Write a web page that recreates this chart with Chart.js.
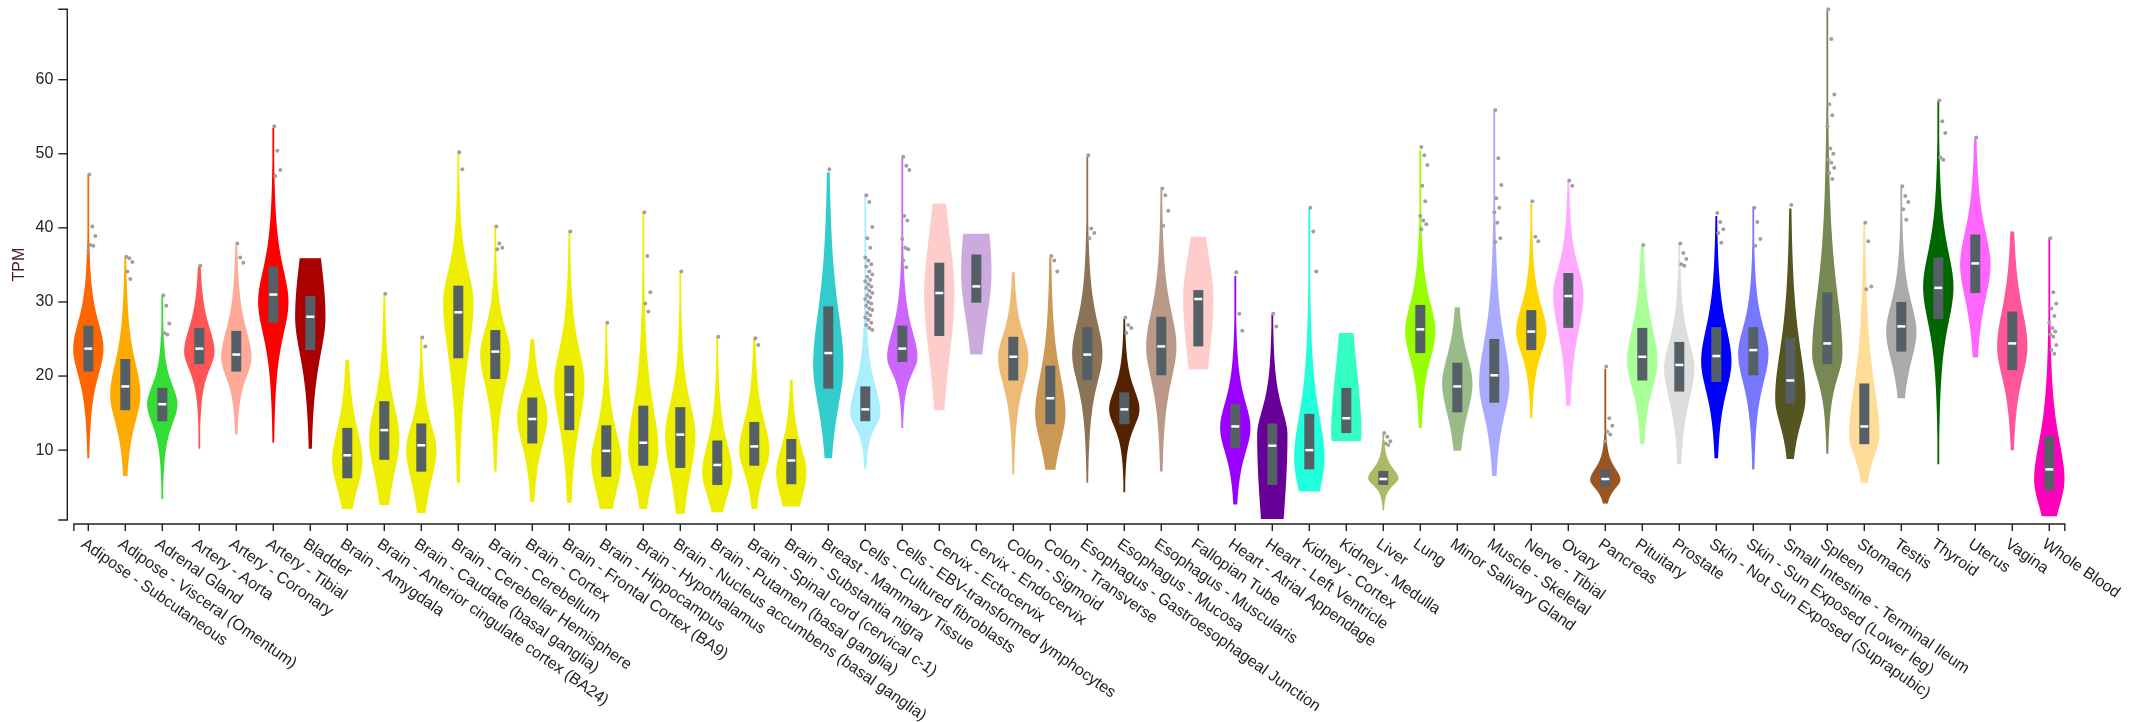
<!DOCTYPE html>
<html>
<head>
<meta charset="utf-8">
<title>Expresión por tejido (TPM)</title>
<script src="https://cdn.jsdelivr.net/npm/chart.js@4/dist/chart.umd.min.js"></script>
<style>
    html, body { margin: 0; padding: 0; background: #ffffff; }
    #wrap { width: 2132px; height: 722px; }
</style>
</head>
<body>
<div id="wrap"><canvas id="violinChart" width="2132" height="722"></canvas></div>
<script>
// Tissue names (x categories)
const tissues = [
    'Adipose - Subcutaneous', 'Adipose - Visceral (Omentum)', 'Adrenal Gland', 'Artery - Aorta',
    'Artery - Coronary', 'Artery - Tibial', 'Bladder', 'Brain - Amygdala',
    'Brain - Anterior cingulate cortex (BA24)', 'Brain - Caudate (basal ganglia)', 'Brain - Cerebellar Hemisphere',
    'Brain - Cerebellum', 'Brain - Cortex', 'Brain - Frontal Cortex (BA9)', 'Brain - Hippocampus',
    'Brain - Hypothalamus', 'Brain - Nucleus accumbens (basal ganglia)', 'Brain - Putamen (basal ganglia)',
    'Brain - Spinal cord (cervical c-1)', 'Brain - Substantia nigra', 'Breast - Mammary Tissue',
    'Cells - Cultured fibroblasts', 'Cells - EBV-transformed lymphocytes', 'Cervix - Ectocervix',
    'Cervix - Endocervix', 'Colon - Sigmoid', 'Colon - Transverse', 'Esophagus - Gastroesophageal Junction',
    'Esophagus - Mucosa', 'Esophagus - Muscularis', 'Fallopian Tube', 'Heart - Atrial Appendage',
    'Heart - Left Ventricle', 'Kidney - Cortex', 'Kidney - Medulla', 'Liver', 'Lung', 'Minor Salivary Gland',
    'Muscle - Skeletal', 'Nerve - Tibial', 'Ovary', 'Pancreas', 'Pituitary', 'Prostate',
    'Skin - Not Sun Exposed (Suprapubic)', 'Skin - Sun Exposed (Lower leg)', 'Small Intestine - Terminal Ileum',
    'Spleen', 'Stomach', 'Testis', 'Thyroid', 'Uterus', 'Vagina', 'Whole Blood'
];

// Tissue colours
const tissueColors = [
    '#FF6600', '#FFAA00', '#33DD33', '#FF5555', '#FFAA99', '#FF0000', '#AA0000', '#EEEE00',
    '#EEEE00', '#EEEE00', '#EEEE00', '#EEEE00', '#EEEE00', '#EEEE00', '#EEEE00',
    '#EEEE00', '#EEEE00', '#EEEE00', '#EEEE00', '#EEEE00', '#33CCCC',
    '#AAEEFF', '#CC66FF', '#FFCCCC', '#CCAADD', '#EEBB77', '#CC9955', '#8B7355',
    '#552200', '#BB9988', '#FFCCCC', '#9900FF', '#660099', '#22FFDD', '#33FFC2', '#AABB66',
    '#99FF00', '#99BB88', '#AAAAFF', '#FFD700', '#FFAAFF', '#995522', '#AAFF99', '#DDDDDD',
    '#0000FF', '#7777FF', '#555522', '#778855', '#FFDD99', '#AAAAAA', '#006600', '#FF66FF',
    '#FF5599', '#FF00BB'
];

// Violin extent (lowest and highest value), TPM
const violinLow = [8.9, 6.5, 3.4, 10.2, 12.1, 11.0, 10.2, 2.05, 2.6, 1.5, 5.6, 7.1, 3.0, 2.9, 2.05, 2.05, 1.4, 1.6,
    2.05, 2.4, 8.9, 7.5, 13.0, 15.4, 22.9, 6.7, 7.35, 5.6, 4.3, 7.1, 20.9, 2.65, 0.7, 4.4, 11.2, 1.9, 13.0, 9.9,
    6.5, 14.3, 16.0, 2.8, 10.8, 8.1, 8.9, 7.4, 8.8, 9.5, 5.6, 17.0, 8.1, 22.5, 10.0, 1.07];
const violinHigh = [47.1, 36.0, 30.8, 34.8, 37.7, 53.5, 35.9, 22.2, 31.1, 25.1, 50.2, 40.2, 25.0, 39.5, 27.2, 42.1,
    34.1, 25.3, 25.1, 19.5, 47.5, 44.3, 49.5, 43.3, 39.2, 34.0, 36.0, 49.6, 27.7, 45.1, 38.8, 33.5, 28.3, 42.6,
    25.8, 12.3, 50.5, 29.3, 55.9, 43.3, 46.3, 21.0, 37.7, 37.9, 41.6, 42.8, 42.6, 69.3, 40.6, 45.5, 57.1, 52.0,
    39.5, 38.6];

// Box plot values: first quartile, median, third quartile
const q1Values = [20.6, 15.4, 13.9, 21.6, 20.6, 27.2, 23.5, 6.2, 8.7, 7.1, 22.4, 19.6, 10.9, 12.7, 6.4, 7.9, 7.6,
    5.3, 7.9, 5.4, 18.3, 13.9, 21.9, 25.4, 29.9, 19.4, 13.5, 19.5, 13.5, 20.1, 24.0, 10.3, 5.3, 7.4, 12.3, 5.3,
    23.1, 15.1, 16.4, 23.5, 26.5, 5.1, 19.4, 17.9, 19.2, 20.1, 16.3, 21.6, 10.8, 23.3, 27.7, 31.2, 20.8, 4.6];
const medianValues = [23.7, 18.6, 16.2, 23.7, 22.9, 31.0, 28.0, 9.3, 12.7, 10.65, 28.6, 23.3, 14.2, 17.5, 9.9, 11.0,
    12.1, 8.0, 10.5, 8.6, 23.1, 15.5, 23.7, 31.2, 32.1, 22.6, 17.0, 22.9, 15.5, 24.0, 30.4, 13.2, 10.6, 10.0,
    14.3, 6.1, 26.3, 18.6, 20.1, 26.0, 30.8, 6.1, 22.6, 21.5, 22.7, 23.5, 19.4, 24.4, 13.2, 26.7, 31.9, 35.2,
    24.4, 7.4];
const q3Values = [26.8, 22.3, 18.4, 26.5, 26.1, 34.8, 30.8, 13.0, 16.6, 13.6, 32.2, 26.2, 17.1, 21.4, 13.35, 16.0,
    15.8, 11.3, 13.8, 11.5, 29.4, 18.6, 26.8, 35.3, 36.4, 25.3, 21.4, 26.6, 17.8, 28.0, 31.6, 16.2, 13.6, 14.9,
    18.4, 7.2, 29.6, 21.8, 25.0, 28.9, 33.9, 7.4, 26.5, 24.6, 26.6, 26.6, 25.1, 31.3, 19.0, 30.0, 36.0, 39.1,
    28.7, 11.9];

// Value where each violin is widest
const modeValues = [23.7, 17.5, 16.2, 23.3, 22.5, 30.0, 28.0, 8.5, 11.5, 10.0, 30.0, 23.0, 14.5, 19.0, 8.5, 10.0,
    12.0, 7.0, 10.0, 7.0, 21.5, 15.0, 22.5, 31.0, 34.0, 22.5, 15.0, 23.0, 15.5, 24.0, 30.5, 13.0, 12.0, 9.0,
    12.0, 6.2, 26.0, 19.0, 19.0, 26.0, 31.0, 6.0, 22.0, 21.0, 22.0, 23.0, 17.0, 23.0, 12.0, 26.0, 32.0, 35.0,
    24.0, 6.0];

// Density spread below / above the widest point (1 = from the quartiles)
const spreadBelow = [1, 1, 1, 1, 1, 1, 1, 1, 1, 1, 1, 1, 1, 1, 1, 1, 1, 1, 1, 1, 1, 1, 1, 1.25, 2.6, 1, 1, 1,
    1, 1, 1.2, 1, 2.2, 1.6, 1, 1, 1, 1, 1, 1, 1, 1, 1, 1, 1, 1, 1, 1, 1, 1, 1, 1, 1, 1.1];
const spreadAbove = [1, 1, 1, 1, 1, 1, 2.6, 1, 1, 1, 1, 1, 1, 1, 1, 1, 1, 1, 1, 1, 1, 1, 1, 1.7, 1.8, 1, 1, 1,
    1, 1, 4.3, 1, 1, 1, 2.0, 1, 1, 1, 1, 1, 1, 1, 1, 1, 1, 1, 1, 1, 1, 1, 1, 1, 1, 1];

// Outlier samples per tissue, TPM
const outlierValues = [
    [47.2, 40.2, 38.9, 37.7, 37.6, 36.9],
    [36.1, 35.9, 35.4, 34.1, 33.1],
    [30.9, 29.5, 27.1, 25.8, 25.6],
    [34.9],
    [37.9, 36.0, 35.3],
    [53.7, 50.4, 47.8, 47.0],
    [],
    [],
    [31.1],
    [25.2, 24.0],
    [50.2, 47.9],
    [40.2, 37.9, 37.3, 37.1],
    [],
    [39.5],
    [27.2],
    [42.1, 36.2, 31.3, 29.8, 28.7],
    [34.1],
    [25.3],
    [25.1, 24.2],
    [],
    [47.9],
    [44.4, 43.5, 40.1, 38.6, 37.3, 36.0, 35.6, 35.1, 34.8, 34.1, 33.7, 33.4, 33.0, 32.8, 32.4, 32.1, 31.9, 31.5,
        31.2, 30.9, 30.6, 30.4, 30.0, 29.8, 29.5, 29.1, 28.9, 28.5, 28.2, 27.9, 27.6, 27.2, 26.9, 26.5, 26.2],
    [49.6, 48.4, 47.8, 41.6, 41.0, 38.5, 37.3, 37.1, 35.6, 34.7],
    [],
    [],
    [],
    [36.2, 35.6, 34.1],
    [49.8, 39.9, 39.3, 38.6],
    [27.9, 26.9, 26.5, 25.8],
    [45.3, 44.4, 42.3, 40.3],
    [],
    [34.0, 28.4, 26.1],
    [28.4, 26.7],
    [42.7, 39.5, 34.1],
    [],
    [12.3, 11.8, 11.2, 10.9, 10.7],
    [50.9, 49.8, 48.5, 45.7, 43.6, 41.6, 41.0, 40.5, 39.8],
    [],
    [55.9, 49.4, 45.8, 44.0, 42.7, 42.1, 40.7, 38.6, 38.1],
    [43.6, 38.8, 38.2],
    [46.4, 45.7],
    [21.3, 14.3, 13.3, 12.5, 12.1, 11.2],
    [37.7],
    [37.9, 36.6, 35.8, 35.1, 34.9],
    [42.0, 40.8, 39.8, 39.3, 38.0],
    [42.7, 40.8, 38.5, 37.6],
    [43.1],
    [69.5, 65.5, 58.0, 56.7, 55.2, 53.7, 50.7, 50.0, 49.2, 48.8, 48.1, 47.4, 46.6],
    [40.7, 38.2, 32.1, 31.7],
    [45.6, 44.3, 43.5, 42.5, 41.1],
    [57.2, 54.4, 52.8, 49.5, 49.2],
    [52.2],
    [],
    [38.6, 31.3, 29.8, 29.1, 28.1, 27.2, 26.5, 26.0, 25.6, 25.3, 24.2, 23.5, 23.0]
];

// Y axis range and tick labels
const yMin = 0.57;
const yMax = 69.5;
const yTicks = [10, 20, 30, 40, 50, 60];
const yTitle = 'TPM';

const FONT = "'Liberation Sans', Arial, sans-serif";

// width of a violin at value v, 1 at the widest point
function violinShape(i, v) {
    const mode = modeValues[i];
    let s;
    if (v < mode) {
        s = spreadBelow[i] * Math.max(medianValues[i] - q1Values[i], 0.3) / 0.674;
    } else {
        s = spreadAbove[i] * Math.max(q3Values[i] - medianValues[i], 0.3) / 0.674;
    }
    const z = (v - mode) / s;
    return Math.pow(1 + z * z / 2, -1.5);
}

// Plugin that draws violins, boxes, outliers and axes with the chart scales
const violinPlugin = {
    id: 'violins',
    beforeDatasetsDraw(chart) {
        const ctx = chart.ctx;
        const xScale = chart.scales.x;
        const yScale = chart.scales.y;
        const area = chart.chartArea;
        const step = xScale.getPixelForValue(1) - xScale.getPixelForValue(0);
        const halfViolin = step * 0.41;
        const halfBox = step * 0.135;
        const jitter = [1, 4, 7, 2, 5, 0, 3, 6];

        ctx.save();
        tissues.forEach(function (name, i) {
            const cx = xScale.getPixelForValue(i);
            const lo = violinLow[i];
            const hi = violinHigh[i];
            const n = 160;
            const left = [];
            const right = [];
            for (let k = 0; k <= n; k++) {
                const v = lo + (hi - lo) * k / n;
                const w = Math.max(halfViolin * violinShape(i, v), 0.9);
                const py = yScale.getPixelForValue(v);
                left.push([cx - w, py]);
                right.push([cx + w, py]);
            }
            // violin body
            ctx.beginPath();
            ctx.moveTo(left[0][0], left[0][1]);
            left.forEach(p => ctx.lineTo(p[0], p[1]));
            for (let k = right.length - 1; k >= 0; k--) ctx.lineTo(right[k][0], right[k][1]);
            ctx.closePath();
            ctx.fillStyle = tissueColors[i];
            ctx.fill();

            // interquartile box
            const yq3 = yScale.getPixelForValue(q3Values[i]);
            const yq1 = yScale.getPixelForValue(q1Values[i]);
            ctx.fillStyle = '#555f66';
            ctx.fillRect(cx - halfBox, yq3, halfBox * 2, yq1 - yq3);

            // median line
            const ym = yScale.getPixelForValue(medianValues[i]);
            ctx.strokeStyle = '#ffffff';
            ctx.lineWidth = 2.5;
            ctx.beginPath();
            ctx.moveTo(cx - halfBox + 1, ym);
            ctx.lineTo(cx + halfBox - 1, ym);
            ctx.stroke();
        });

        // outliers
        ctx.fillStyle = '#a0a0a0';
        tissues.forEach(function (name, i) {
            const cx = xScale.getPixelForValue(i);
            outlierValues[i].forEach(function (v, k) {
                ctx.beginPath();
                ctx.arc(cx + jitter[k % jitter.length], yScale.getPixelForValue(v), 2, 0, Math.PI * 2);
                ctx.fill();
            });
        });

        // y axis
        const ax = area.left - 21;
        ctx.strokeStyle = '#222222';
        ctx.lineWidth = 1.4;
        ctx.beginPath();
        ctx.moveTo(ax - 9, area.top);
        ctx.lineTo(ax, area.top);
        ctx.lineTo(ax, area.bottom);
        ctx.lineTo(ax - 9, area.bottom);
        ctx.stroke();
        ctx.fillStyle = '#222222';
        ctx.font = '16px ' + FONT;
        ctx.textAlign = 'right';
        ctx.textBaseline = 'middle';
        yTicks.forEach(function (t) {
            const py = yScale.getPixelForValue(t);
            ctx.beginPath();
            ctx.moveTo(ax - 9, py);
            ctx.lineTo(ax, py);
            ctx.stroke();
            ctx.fillText(String(t), ax - 14, py);
        });

        // y axis title
        ctx.save();
        ctx.translate(20, (area.top + area.bottom) / 2);
        ctx.rotate(-Math.PI / 2);
        ctx.textAlign = 'center';
        ctx.fillStyle = '#4a1a2c';
        ctx.font = '16px ' + FONT;
        ctx.fillText(yTitle, 0, 0);
        ctx.restore();

        // x axis
        const ay = area.bottom + 4;
        const xs = area.left - step * 0.39;
        const xe = area.right + step * 0.42;
        ctx.beginPath();
        ctx.moveTo(xs, ay + 7);
        ctx.lineTo(xs, ay);
        ctx.lineTo(xe, ay);
        ctx.lineTo(xe, ay + 7);
        ctx.stroke();
        ctx.fillStyle = '#222222';
        ctx.font = '16px ' + FONT;
        ctx.textAlign = 'left';
        ctx.textBaseline = 'top';
        tissues.forEach(function (name, i) {
            const cx = xScale.getPixelForValue(i);
            ctx.beginPath();
            ctx.moveTo(cx, ay);
            ctx.lineTo(cx, ay + 7);
            ctx.stroke();
            ctx.save();
            ctx.translate(cx - 1, ay + 12);
            ctx.rotate(35 * Math.PI / 180);
            ctx.fillText(name, 0, 0);
            ctx.restore();
        });
        ctx.restore();
    }
};

document.addEventListener('DOMContentLoaded', function () {
    const ctx = document.getElementById('violinChart').getContext('2d');
    new Chart(ctx, {
        type: 'line',
        data: {
            labels: tissues,
            datasets: [{
                data: medianValues,
                showLine: false,
                pointRadius: 0
            }]
        },
        options: {
            responsive: false,
            devicePixelRatio: 1,
            animation: false,
            layout: {
                padding: { left: 88.3, right: 2132 - 2049.3, top: 9.3, bottom: 722 - 520 }
            },
            scales: {
                x: { type: 'category', display: false, offset: false },
                y: { type: 'linear', display: false, min: yMin, max: yMax }
            },
            plugins: {
                legend: { display: false },
                tooltip: { enabled: false }
            }
        },
        plugins: [violinPlugin]
    });
});
</script>
</body>
</html>
